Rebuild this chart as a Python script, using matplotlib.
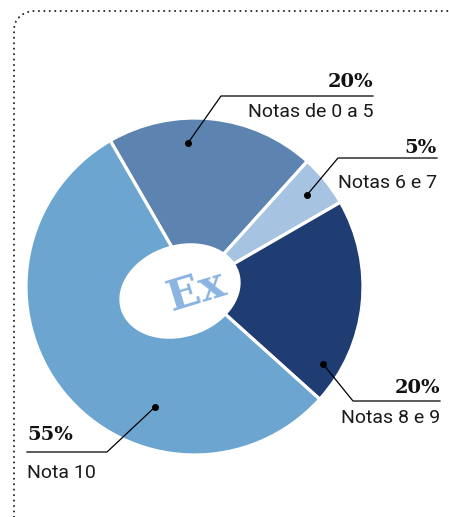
import numpy as np
import matplotlib
matplotlib.use("Agg")
import matplotlib.pyplot as plt
from matplotlib.patches import Ellipse

# =========================
# data
# =========================
categories = ["Notas de 0 a 5", "Notas 6 e 7", "Notas 8 e 9", "Nota 10"]
shares = [20, 5, 20, 55]
pct_labels = ["20%", "5%", "20%", "55%"]
colors = ["#5D83B0", "#A6C4E1", "#1F3D72", "#6BA5D0"]

W, H = 449, 517


def py(y):
    # image y (top-down) -> axes y
    return H - y


fig = plt.figure(figsize=(W / 100, H / 100), dpi=100)
ax = fig.add_axes([0, 0, 1, 1])

# dotted frame (top + left, rounded corner)
fx = [14, 14, 16, 20, 25, 31, W]
fy = [H, 28, 21, 16, 13, 11, 11]
ax.plot(fx, [py(v) for v in fy], color="#222222", lw=1.4,
        linestyle=(0, (0.1, 2.7)), dash_capstyle="round")

# donut
cx, cy, r = 194.5, 286.5, 168.5
wedges, _ = ax.pie(
    shares,
    colors=colors,
    startangle=120,
    counterclock=False,
    center=(cx, py(cy)),
    radius=r,
    wedgeprops=dict(edgecolor="white", linewidth=2.3),
    frame=True,
)
ax.set_xlim(0, W)
ax.set_ylim(0, H)
ax.set_aspect("equal")
ax.axis("off")

# off-centre white hole
ax.add_patch(Ellipse((180, py(291)), 124, 92, angle=18,
                     facecolor="white", edgecolor="none", zorder=3))
ax.text(196, py(291), "Ex", rotation=17, ha="center", va="center",
        fontsize=31, fontweight="bold", family="DejaVu Serif",
        color="#8AB4E1", zorder=4)

# labels: dot, leader knee, line end, pct baseline, name baseline, align
label_layout = [
    ((188, 143), (221, 96), 373, 87, 117, "right"),
    ((307, 195), (338, 158), 437, 153, 188, "right"),
    ((323, 364), (353, 401), 440, 393, 423, "right"),
    ((155, 407), (107, 452), 27, 440, 478, "left"),
]

for (dot, knee, end, pb, nb, align), name, pct in zip(label_layout, categories, pct_labels):
    ax.plot([dot[0], knee[0], end], [py(dot[1]), py(knee[1]), py(knee[1])],
            color="black", lw=0.9, zorder=5)
    ax.plot(dot[0], py(dot[1]), "o", color="black", ms=4, zorder=6)
    ax.text(end, py(pb), pct, ha=align, va="baseline", fontsize=14,
            fontweight="bold", family="DejaVu Serif", color="#111111")
    ax.text(end, py(nb), name, ha=align, va="baseline", fontsize=14,
            family=["Roboto", "DejaVu Sans"], color="#1a1a1a")

fig.savefig("out.png", dpi=100)
